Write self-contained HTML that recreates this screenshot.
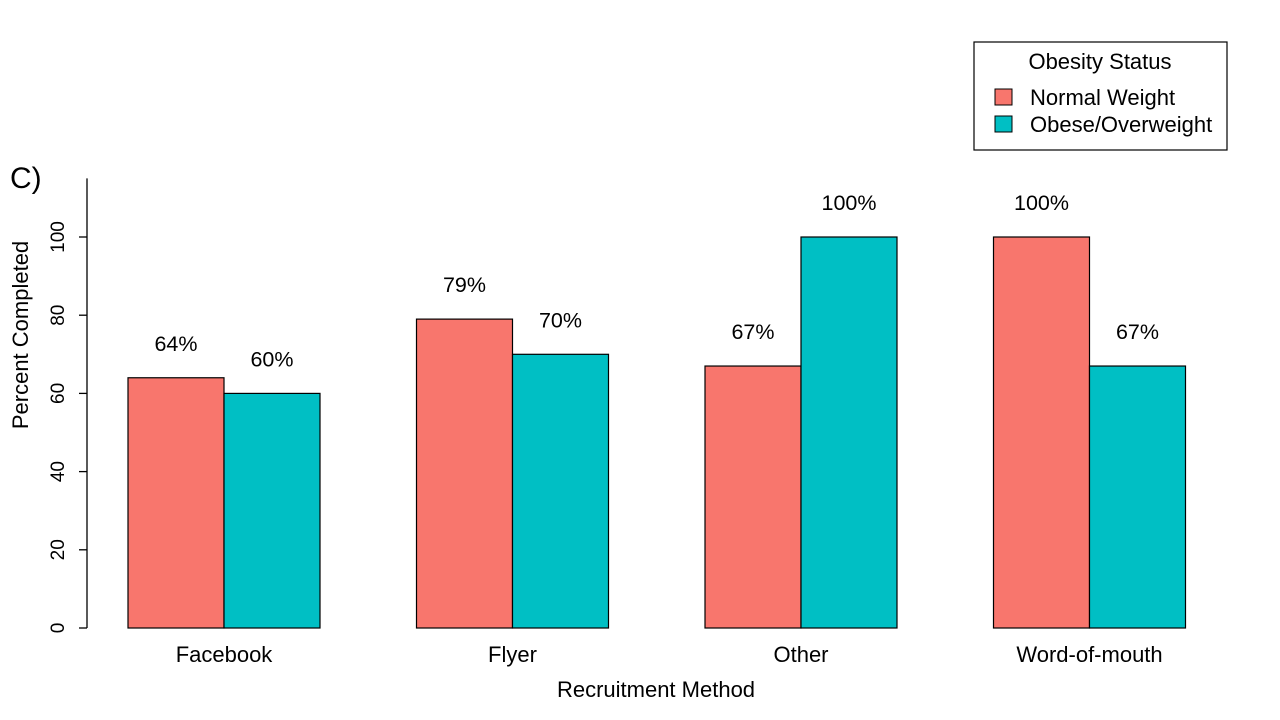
<!DOCTYPE html>
<html><head><meta charset="utf-8"><style>
body{margin:0;background:#fff;}
svg{font-family:"Liberation Sans",Arial,sans-serif;display:block}
</style></head><body>
<svg id="chart" width="1280" height="720">
<text x="10" y="188" font-size="30">C)</text>
<g id="axes"></g><g id="bars"></g>
<text x="656" y="697" font-size="22" text-anchor="middle">Recruitment Method</text>
<text transform="translate(28,335) rotate(-90)" font-size="22" text-anchor="middle">Percent Completed</text>
<g>
<rect x="974" y="42" width="253" height="108" fill="#fff" stroke="#000" stroke-width="1.2"/>
<text x="1100" y="69" font-size="22" text-anchor="middle">Obesity Status</text>
<rect x="995" y="89" width="17" height="16" fill="#F8766D" stroke="#000"/>
<text x="1030" y="105" font-size="22">Normal Weight</text>
<rect x="995" y="116" width="17" height="16" fill="#00BFC4" stroke="#000"/>
<text x="1030" y="132" font-size="22">Obese/Overweight</text>
</g>
</svg>
<script>
const categories=["Facebook","Flyer","Other","Word-of-mouth"];
const normalWeight=[64,79,67,100];
const obeseOverweight=[60,70,100,67];
const yTicks=[0,20,40,60,80,100];
const colors=["#F8766D","#00BFC4"];
const NS="http://www.w3.org/2000/svg";
const y=v=>628-v*3.91;
const groupX=i=>128+i*288.5;
const bw=96;
function mk(tag,attrs,parent,text){const e=document.createElementNS(NS,tag);for(const k in attrs)e.setAttribute(k,attrs[k]);if(text!==undefined)e.textContent=text;parent.appendChild(e);return e;}
const axes=document.getElementById('axes'),bars=document.getElementById('bars');
const ax=mk('line',{x1:87,x2:87,y1:y(0),y2:y(115),stroke:'#000','stroke-width':1.3},axes);


yTicks.forEach(t=>{
 const l=mk('line',{x1:79,x2:87,y1:y(t),y2:y(t),stroke:'#000','stroke-width':1.3},axes);
 
 
 const tx=mk('text',{transform:`translate(64,${y(t)}) rotate(-90)`,'font-size':19,'text-anchor':'middle'},axes,String(t));
 
 
});
[normalWeight,obeseOverweight].forEach((series,s)=>{
 series.forEach((v,i)=>{
  const x=groupX(i)+s*bw;
  const r=mk('rect',{x:x,y:y(v),width:bw,height:y(0)-y(v),fill:colors[s],stroke:'#000','stroke-width':1.2},bars);
  
  
  const t=mk('text',{x:x+bw/2,y:y(v)-27,'font-size':21.5,'text-anchor':'middle'},bars,v+'%');
  
  
 });
});
categories.forEach((c,i)=>{
 const t=mk('text',{x:groupX(i)+bw,y:662,'font-size':22,'text-anchor':'middle'},axes,c);
 
 
});
</script>
</body></html>
